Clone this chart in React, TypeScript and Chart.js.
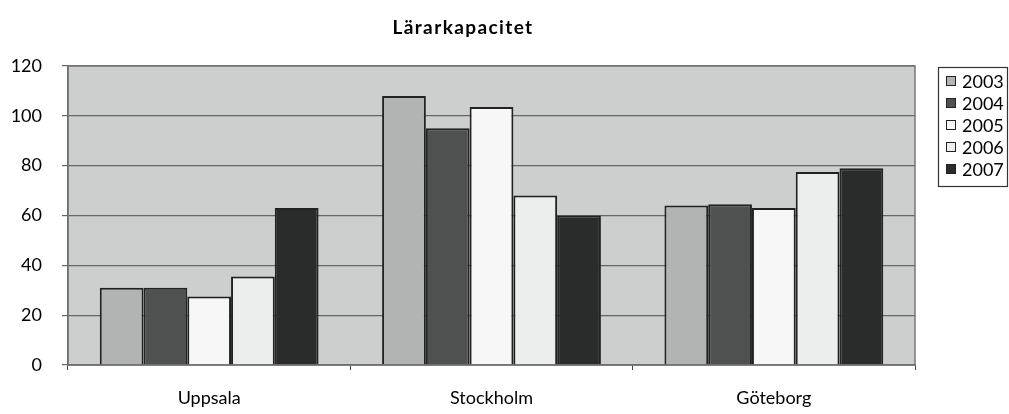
import React, { useEffect, useRef } from "react";
import { Chart, registerables } from "chart.js";

Chart.register(...registerables);

const categories = ["Uppsala", "Stockholm", "Göteborg"];
const seriesLabels = ["2003", "2004", "2005", "2006", "2007"];
const values2003 = [31, 108, 64];
const values2004 = [31, 95, 64.5];
const values2005 = [27.5, 103.5, 63];
const values2006 = [35.5, 68, 77.5];
const values2007 = [63, 60, 79];
const seriesColors = ["#b2b4b3", "#4f5150", "#f7f7f7", "#eceeed", "#2a2c2b"];
const yTicks = [0, 20, 40, 60, 80, 100, 120];
const titleText = "Lärarkapacitet";

const FONT = "Lato, 'Open Sans', sans-serif";

export default function App() {
  const ref = useRef<HTMLCanvasElement | null>(null);

  useEffect(() => {
    document.body.style.margin = "0";
    const canvas = ref.current;
    if (!canvas) return;
    const allValues = [values2003, values2004, values2005, values2006, values2007];

    const bgPlugin = {
      id: "plotBg",
      beforeDraw(chart: any) {
        const { ctx, chartArea } = chart;
        ctx.save();
        ctx.fillStyle = "#ffffff";
        ctx.fillRect(0, 0, chart.width, chart.height);
        ctx.fillStyle = "#cdcfce";
        ctx.fillRect(chartArea.left, chartArea.top, chartArea.right - chartArea.left, chartArea.bottom - chartArea.top);
        ctx.restore();
      },
      afterDraw(chart: any) {
        const { ctx, chartArea } = chart;
        ctx.save();
        ctx.strokeStyle = "#777777";
        ctx.lineWidth = 1.5;
        ctx.strokeRect(chartArea.left, chartArea.top, chartArea.right - chartArea.left, chartArea.bottom - chartArea.top);
        // title
        ctx.fillStyle = "#000";
        ctx.font = `bold 19px ${FONT}`;
        try { (ctx as any).letterSpacing = "1.4px"; } catch (e) {}
        ctx.textAlign = "center";
        ctx.textBaseline = "middle";
        ctx.fillText(titleText, 463, 28);
        try { (ctx as any).letterSpacing = "0px"; } catch (e) {}
        // legend
        const lx = 938, ly = 67, lw = 69, lh = 119;
        ctx.fillStyle = "#ffffff";
        ctx.fillRect(lx, ly, lw, lh);
        ctx.strokeStyle = "#333";
        ctx.lineWidth = 1.2;
        ctx.strokeRect(lx + 0.5, ly + 0.5, lw, lh);
        ctx.font = `18px ${FONT}`;
        ctx.textAlign = "left";
        chart.data.datasets.forEach((ds: any, i: number) => {
          const cy = 81 + i * 22;
          ctx.fillStyle = ds.backgroundColor;
          ctx.fillRect(946.5, cy - 4.5, 9, 9);
          ctx.strokeStyle = "#222";
          ctx.lineWidth = 1;
          ctx.strokeRect(946.5, cy - 4.5, 9, 9);
          ctx.fillStyle = "#000";
          ctx.fillText(ds.label, 962, cy + 1);
        });
        ctx.restore();
      },
    };

    const chart = new Chart(canvas, {
      type: "bar",
      data: {
        labels: categories,
        datasets: seriesLabels.map((label, i) => ({
          label,
          data: allValues[i],
          backgroundColor: seriesColors[i],
          borderColor: "#222222",
          borderWidth: 2,
          categoryPercentage: 0.775,
          barPercentage: 1,
        })),
      },
      options: {
        animation: false,
        responsive: false,
        maintainAspectRatio: false,
        layout: { padding: { top: 66, right: 94, left: 0, bottom: 0 } },
        plugins: {
          legend: { display: false },
          title: { display: false },
          tooltip: { enabled: false },
        },
        scales: {
          x: {
            offset: true,
            grid: { display: true, drawOnChartArea: false, offset: true, tickLength: 5, color: "#444" },
            border: { display: true, color: "#555", width: 1.5 },
            ticks: { color: "#000", font: { family: FONT, size: 18 }, padding: 17 },
            afterFit(scale: any) {
              scale.height = 49;
            },
          },
          y: {
            min: 0,
            max: 120,
            afterBuildTicks(scale: any) {
              scale.ticks = yTicks.map((v) => ({ value: v }));
            },
            grid: { color: "#666666", lineWidth: 1.2, tickLength: 6 },
            border: { display: true, color: "#555", width: 1.5 },
            ticks: { color: "#000", font: { family: FONT, size: 18 }, padding: 20 },
            afterFit(scale: any) {
              scale.width = 68;
            },
          },
        },
      },
      plugins: [bgPlugin],
    } as any);
    return () => chart.destroy();
  }, []);

  return (
    <div style={{ width: 1009, height: 414 }}>
      <canvas ref={ref} width={1009} height={414} style={{ display: "block" }} />
    </div>
  );
}
